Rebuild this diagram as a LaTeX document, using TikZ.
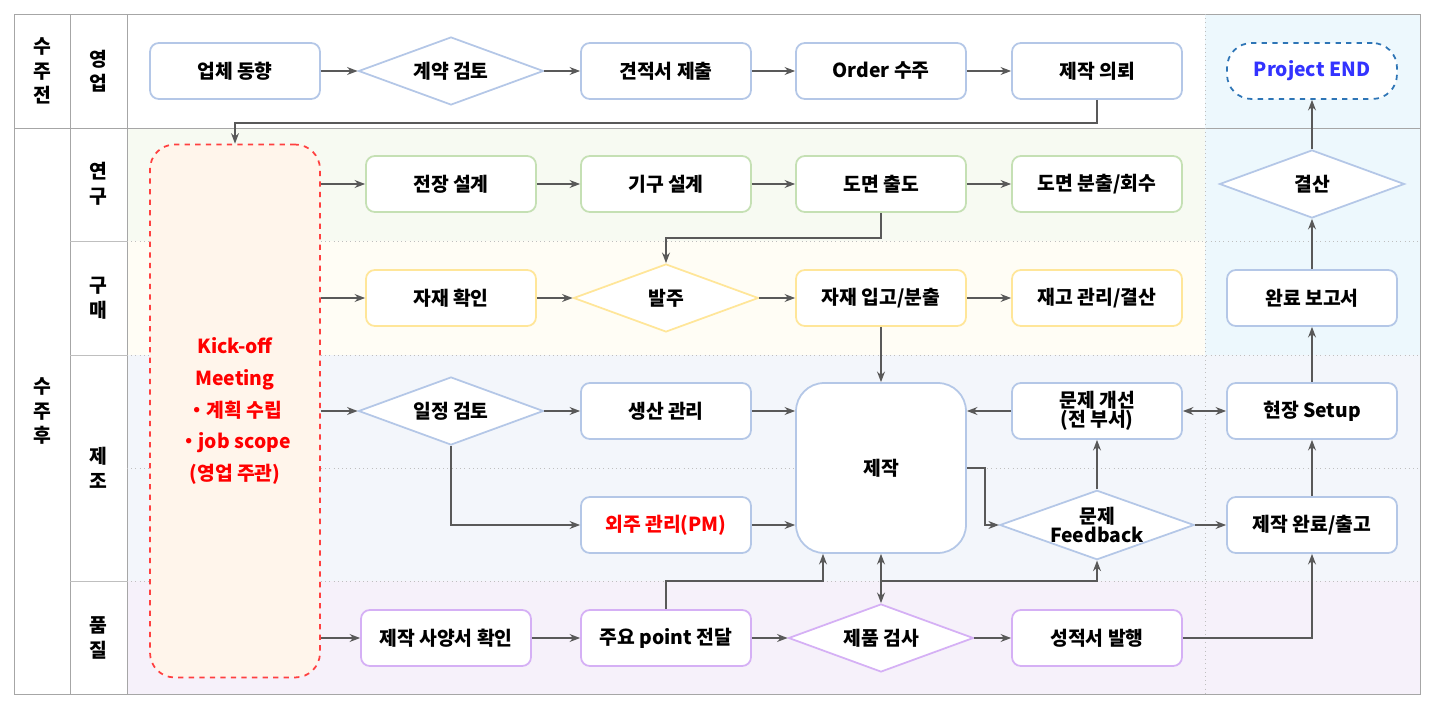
\documentclass[tikz,border=0pt]{standalone}
\usepackage{fontspec}
\setmainfont{Noto Sans CJK KR}
\usetikzlibrary{shapes,arrows.meta,positioning,calc}
\definecolor{bsales}{HTML}{B4C7E7}
\definecolor{bres}{HTML}{C5E0B4}
\definecolor{bbuy}{HTML}{FFE699}
\definecolor{bqc}{HTML}{D5B0F5}
\definecolor{fres}{HTML}{F7FAF2}
\definecolor{fbuy}{HTML}{FFFDF5}
\definecolor{fmfg}{HTML}{F3F6FB}
\definecolor{fqc}{HTML}{F6F1FA}
\definecolor{fend}{HTML}{EDF8FD}
\definecolor{bend}{HTML}{2E75B6}
\tikzset{
  box/.style={draw=#1, line width=1pt, rounded corners=5pt, fill=white, minimum width=3.4cm, minimum height=1.12cm, font=\bfseries, align=center},
  dia/.style={draw=#1, line width=1pt, diamond, aspect=2.8, fill=white, minimum width=3.7cm, minimum height=1.36cm, inner sep=0pt, font=\bfseries, align=center},
  flow/.style={-{Stealth[length=6pt]}, draw=black!65, line width=0.8pt},
  lane/.style={font=\bfseries, align=center}
}
\begin{document}
\begin{tikzpicture}[x=0.02cm, y=-0.02cm]
 \useasboundingbox (0,0) rectangle (1434,710);
 \fontsize{11}{14}\selectfont
 %backgrounds
 \fill[fres] (127,128) rectangle (1205,241);
 \fill[fbuy] (127,241) rectangle (1205,355);
 \fill[fmfg] (127,355) rectangle (1205,581);
 \fill[fqc] (127,581) rectangle (1420,694);
 \fill[fmfg] (1205,355) rectangle (1420,581);
 \fill[fend] (1205,14) rectangle (1420,355);
 %grid
 \draw[gray!70] (14,14) rectangle (1420,694);
 \draw[gray!70] (70,14) -- (70,694) (127,14) -- (127,694);
 \draw[gray!70] (14,128) -- (1420,128);
 \draw[gray!50] (70,241) -- (127,241) (70,355) -- (127,355) (70,581) -- (127,581);
 \draw[gray!50, dotted] (127,241) -- (1420,241) (127,355) -- (1420,355) (127,468) -- (1420,468) (127,581) -- (1420,581);
 \draw[gray!50, dotted] (1205,14) -- (1205,694);
 %lanes
 \node[lane] at (42,71) {수\\주\\전};
 \node[lane] at (42,411) {수\\주\\후};
 \node[lane] at (98,71) {영\\업};
 \node[lane] at (98,184) {연\\구};
 \node[lane] at (98,298) {구\\매};
 \node[lane] at (98,468) {제\\조};
 \node[lane] at (98,638) {품\\질};

 %sales
 \node[box=bsales] (trend) at (235,71) {업체 동향};
 \node[dia=bsales] (contract) at (451,71) {계약 검토};
 \node[box=bsales] (quote) at (666,71) {견적서 제출};
 \node[box=bsales] (order) at (881,71) {Order 수주};
 \node[box=bsales] (request) at (1097,71) {제작 의뢰};
 \node[box=bend, dashed, rounded corners=14pt, text=blue!80!white] (pend) at (1312,71) {Project END};

 %kick-off
 \node[draw=red!75, dashed, line width=1pt, rounded corners=14pt, fill=orange!8, minimum width=3.4cm, minimum height=10.66cm, text=red, font=\bfseries, align=center] (kick) at (235,411)
   {Kick-off\\[4pt]Meeting\\[4pt]・계획 수립\\[4pt]・job scope\\[4pt](영업 주관)};

 %research
 \node[box=bres] (elec) at (451,184) {전장 설계};
 \node[box=bres] (mech) at (666,184) {기구 설계};
 \node[box=bres] (draw) at (881,184) {도면 출도};
 \node[box=bres] (dist) at (1097,184) {도면 분출/회수};
 \node[dia=bsales] (settle) at (1312,184) {결산};

 %purchase
 \node[box=bbuy] (check) at (451,298) {자재 확인};
 \node[dia=bbuy] (po) at (666,298) {발주};
 \node[box=bbuy] (recv) at (881,298) {자재 입고/분출};
 \node[box=bbuy] (stock) at (1097,298) {재고 관리/결산};
 \node[box=bsales] (report) at (1312,298) {완료 보고서};

 %manufacture
 \node[dia=bsales] (sched) at (451,411) {일정 검토};
 \node[box=bsales] (prod) at (666,411) {생산 관리};
 \node[box=bsales, minimum height=3.4cm, rounded corners=16pt] (make) at (881,468) {제작};
 \node[box=bsales] (fix) at (1097,411) {문제 개선\\[-3pt](전 부서)};
 \node[box=bsales] (setup) at (1312,411) {현장 Setup};
 \node[box=bsales, text=red] (out) at (666,525) {외주 관리(PM)};
 \node[dia=bsales] (fb) at (1097,525) {문제\\[-3pt]Feedback};
 \node[box=bsales] (ship) at (1312,525) {제작 완료/출고};

 %quality
 \node[box=bqc] (spec) at (446,638) {제작 사양서 확인};
 \node[box=bqc] (point) at (666,638) {주요 point 전달};
 \node[dia=bqc] (insp) at (881,638) {제품 검사};
 \node[box=bqc] (cert) at (1097,638) {성적서 발행};

 %lines
 \draw[flow] (trend) -- (contract);
 \draw[flow] (contract) -- (quote);
 \draw[flow] (quote) -- (order);
 \draw[flow] (order) -- (request);
 \draw[flow] (request.south) |- (235,123) -- (kick.north);

 \draw[flow] (kick.east |- elec) -- (elec);
 \draw[flow] (elec) -- (mech);
 \draw[flow] (mech) -- (draw);
 \draw[flow] (draw) -- (dist);
 \draw[flow] (draw.south) |- (666,238) -- (po.north);

 \draw[flow] (kick.east |- check) -- (check);
 \draw[flow] (check) -- (po);
 \draw[flow] (po) -- (recv);
 \draw[flow] (recv) -- (stock);
 \draw[flow] (recv) -- (make);

 \draw[flow] (kick.east |- sched) -- (sched);
 \draw[flow] (sched) -- (prod);
 \draw[flow] (prod) -- (make.west |- prod);
 \draw[flow] (sched.south) |- (out);
 \draw[flow] (out) -- (make.west |- out);
 \draw[flow] (fix) -- (make.east |- fix);
 \draw[flow, {Stealth[length=6pt]}-{Stealth[length=6pt]}] (fix) -- (setup);
 \draw[flow] (make.east) -- (985,468) |- (fb.west);
 \draw[flow] (fb) -- (fix);
 \draw[flow] (fb) -- (ship);
 \draw[flow] (ship) -- (setup);
 \draw[flow] (setup) -- (report);
 \draw[flow] (report) -- (settle);
 \draw[flow] (settle) -- (pend);

 \draw[flow] (kick.east |- spec) -- (spec);
 \draw[flow] (spec) -- (point);
 \draw[flow] (point) -- (insp);
 \draw[flow] (insp) -- (cert);
 \draw[flow] (cert.east) -| (ship.south);
 \draw[flow] (point.north) |- (823,581) -- (make.south -| 823,0);
 \draw[flow, {Stealth[length=6pt]}-{Stealth[length=6pt]}] (make.south) -- (insp.north);
 \draw[flow] (881,581) -| (fb.south);
\end{tikzpicture}
\end{document}
